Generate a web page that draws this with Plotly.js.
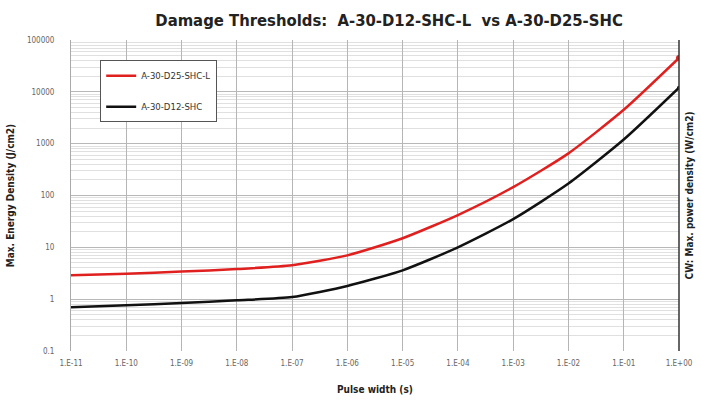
<!DOCTYPE html>
<html>
<head>
<meta charset="utf-8">
<script src="https://cdn.plot.ly/plotly-3.0.1.min.js"></script>
<style>html,body{margin:0;padding:0;background:#fff;}#chart{width:701px;height:403px;}</style>
</head>
<body>
<div id="chart"></div>
<script>
var pulseWidths = [1e-11, 1e-10, 1e-9, 1e-8, 1e-7, 1e-6, 1e-5, 1e-4, 1e-3, 1e-2, 1e-1, 1];
var seriesRedName = "A-30-D25-SHC-L";
var seriesRed = [2.9, 3.1, 3.4, 3.8, 4.5, 7, 15, 42, 145, 650, 4500, 45000];
var seriesBlackName = "A-30-D12-SHC";
var seriesBlack = [0.7, 0.76, 0.84, 0.95, 1.1, 1.8, 3.6, 10, 35, 170, 1200, 12000];
var xTickVals = [1e-11, 1e-10, 1e-9, 1e-8, 1e-7, 1e-6, 1e-5, 1e-4, 1e-3, 1e-2, 1e-1, 1];
var xTickText = ["1.E-11","1.E-10","1.E-09","1.E-08","1.E-07","1.E-06","1.E-05","1.E-04","1.E-03","1.E-02","1.E-01","1.E+00"];
var yTickVals = [0.1, 1, 10, 100, 1000, 10000, 100000];
var yTickText = ["0.1","1","10","100","1000","10000","100000"];

var FONT = "'DejaVu Sans Condensed', 'DejaVu Sans', sans-serif";

var traces = [
  {x: pulseWidths, y: seriesRed, name: seriesRedName, type: "scatter", mode: "lines", legendgroup: "a",
   line: {color: "#e0201f", width: 2.5, shape: "spline", smoothing: 0.6}},
  {x: pulseWidths, y: seriesBlack, name: seriesBlackName, type: "scatter", mode: "lines", legendgroup: "b",
   line: {color: "#111111", width: 2.5, shape: "spline", smoothing: 0.6}},
  {x: [pulseWidths[pulseWidths.length-1]], y: [seriesRed[seriesRed.length-1]], type: "scatter", mode: "markers",
   marker: {color: "#e0201f", size: 6}, showlegend: false, hoverinfo: "skip"},
  {x: [pulseWidths[pulseWidths.length-1]], y: [seriesBlack[seriesBlack.length-1]], type: "scatter", mode: "markers",
   marker: {color: "#111111", size: 4}, showlegend: false, hoverinfo: "skip"}
];

var layout = {
  width: 701, height: 403,
  margin: {l: 71, r: 22, t: 40, b: 52},
  paper_bgcolor: "#ffffff", plot_bgcolor: "#ffffff",
  font: {family: FONT, color: "#333"},
  title: {text: "<b>Damage Thresholds:  A-30-D12-SHC-L  vs A-30-D25-SHC</b>", x: 0.555, xanchor: "center", y: 0.95, yanchor: "middle",
          font: {family: FONT, size: 16.5, color: "#222"}},
  xaxis: {type: "log", range: [-11, 0], tickvals: xTickVals, ticktext: xTickText,
          showgrid: true, gridcolor: "#b5b5b5", gridwidth: 1, zeroline: false,
          showline: false, ticks: "", ticklabelstandoff: 6, tickfont: {size: 8, color: "#666"},
          title: {text: "<b>Pulse width (s)</b>", font: {size: 10, color: "#222"}, standoff: 18}},
  yaxis: {type: "log", range: [-1, 5], tickvals: yTickVals, ticktext: yTickText,
          showgrid: true, gridcolor: "#b8b8b8", gridwidth: 1, zeroline: false,
          minor: {dtick: "D1", showgrid: true, gridcolor: "#e0e0e0", gridwidth: 1, ticks: ""},
          showline: true, linecolor: "#aaaaaa", ticks: "", ticklabelstandoff: 14, tickfont: {size: 8, color: "#666"},
          title: {text: "<b>Max. Energy Density (J/cm2)</b>", font: {size: 10, color: "#222"}, standoff: 10}},
  showlegend: true,
  legend: {x: 0.048, y: 0.935, xanchor: "left", yanchor: "top", bgcolor: "#ffffff",
           bordercolor: "#555", borderwidth: 1, font: {size: 9.5, color: "#333"},
           tracegroupgap: 12, itemwidth: 30, traceorder: "grouped"},
  shapes: [
    {type: "line", xref: "paper", yref: "paper", x0: 1, x1: 1, y0: 0, y1: 1, line: {color: "#333", width: 1.5}}
  ],
  annotations: [
    {text: "<b>CW: Max. power density (W/cm2)</b>", xref: "paper", yref: "paper", x: 1.018, y: 0.5,
     textangle: -90, showarrow: false, xanchor: "center", yanchor: "middle", font: {size: 10, color: "#222"}}
  ]
};

Plotly.newPlot("chart", traces, layout, {displayModeBar: false, staticPlot: true});
</script>
</body>
</html>
